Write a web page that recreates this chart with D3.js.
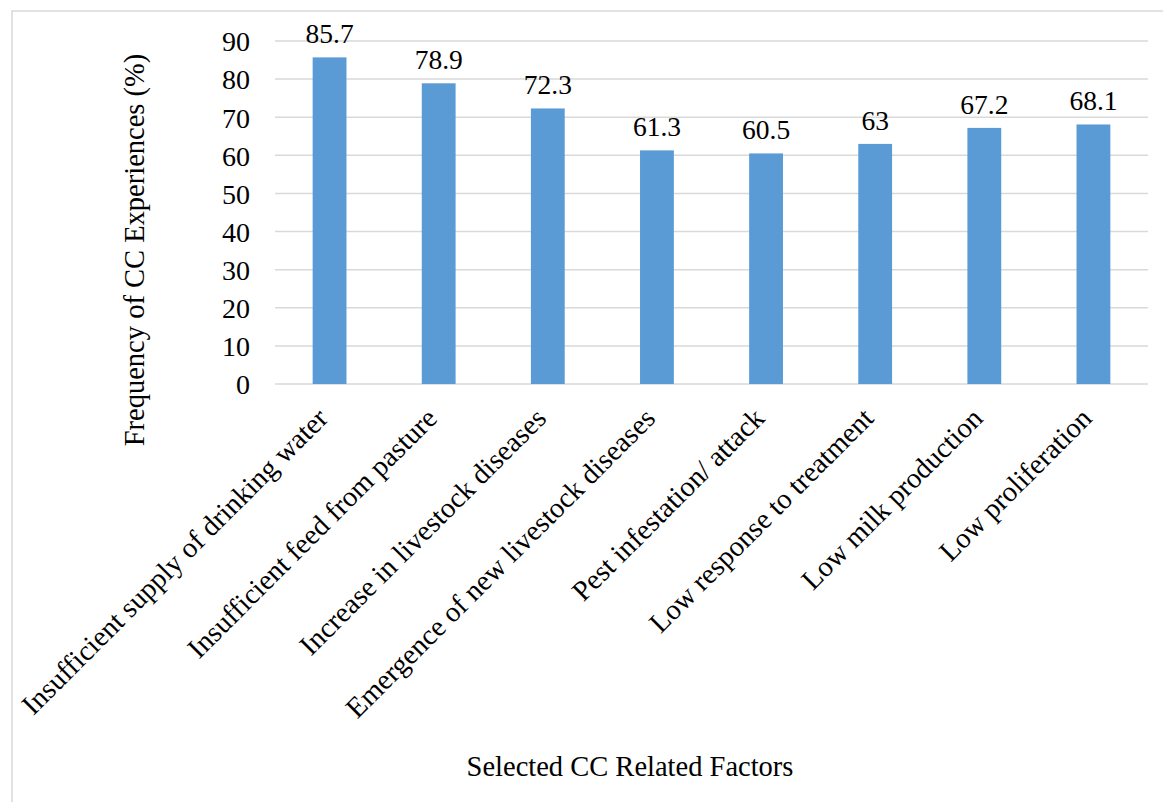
<!DOCTYPE html>
<html>
<head>
<meta charset="utf-8">
<script src="https://cdn.jsdelivr.net/npm/d3@7"></script>
<style>
  body { margin: 0; background: #fff; }
  svg text { font-family: "Times New Roman", "Liberation Serif", serif; fill: #000; }
</style>
</head>
<body>
<div id="chart"></div>
<script>
// chart data
const categories = [
    'Insufficient supply of drinking water',
    'Insufficient feed from pasture',
    'Increase in livestock diseases',
    'Emergence of new livestock diseases',
    'Pest infestation/ attack',
    'Low response to treatment',
    'Low milk production',
    'Low proliferation'
];
const values = [85.7, 78.9, 72.3, 61.3, 60.5, 63, 67.2, 68.1];
const yTicks = [0, 10, 20, 30, 40, 50, 60, 70, 80, 90];

const serif = '"Times New Roman", "Liberation Serif", serif';
const width = 1163;
const height = 802;
const margin = { top: 41, right: 15, bottom: 418, left: 275 };

const svg = d3.select('#chart').append('svg')
    .attr('width', width)
    .attr('height', height)
    .attr('font-family', serif);

// outer frame
svg.append('rect')
    .attr('x', 12).attr('y', 11)
    .attr('width', width + 10).attr('height', height + 10)
    .attr('fill', 'none')
    .attr('stroke', '#d9d9d9')
    .attr('stroke-width', 1.5);

const x = d3.scaleBand()
    .domain(categories)
    .range([margin.left, width - margin.right])
    .paddingInner(0.69)
    .paddingOuter(0.345);

const y = d3.scaleLinear()
    .domain([0, 90])
    .range([height - margin.bottom, margin.top]);

// gridlines
svg.append('g')
    .selectAll('line')
    .data(yTicks)
    .enter()
    .append('line')
    .attr('x1', margin.left)
    .attr('x2', width - margin.right)
    .attr('y1', d => y(d))
    .attr('y2', d => y(d))
    .attr('stroke', '#d9d9d9')
    .attr('stroke-width', 1.5);

// y axis labels
const yAxis = svg.append('g')
    .attr('transform', `translate(${margin.left - 25},0)`)
    .call(d3.axisLeft(y).tickValues(yTicks).tickSize(0).tickPadding(0))
    .attr('font-family', serif)
    .attr('font-size', 28);
yAxis.select('.domain').remove();
yAxis.selectAll('text')
    .attr('dy', '0.35em');

// bars
svg.append('g')
    .selectAll('rect')
    .data(values)
    .enter()
    .append('rect')
    .attr('x', (d, i) => x(categories[i]))
    .attr('y', d => y(d))
    .attr('width', x.bandwidth())
    .attr('height', d => y(0) - y(d))
    .attr('fill', '#5b9bd5');

// value labels
svg.append('g')
    .selectAll('text')
    .data(values)
    .enter()
    .append('text')
    .attr('x', (d, i) => x(categories[i]) + x.bandwidth() / 2)
    .attr('y', d => y(d) - 14)
    .attr('text-anchor', 'middle')
    .attr('font-size', 27.5)
    .text(d => d);

// category labels
svg.append('g')
    .selectAll('text')
    .data(categories)
    .enter()
    .append('text')
    .attr('transform', d => `translate(${x(d) + x.bandwidth() / 2},${y(0) + 36}) rotate(-45)`)
    .attr('text-anchor', 'end')
    .attr('font-size', 28.5)
    .text(d => d);

// axis titles
svg.append('text')
    .attr('transform', `translate(144,250) rotate(-90)`)
    .attr('text-anchor', 'middle')
    .attr('font-size', 28.5)
    .text('Frequency of CC Experiences (%)');

svg.append('text')
    .attr('x', 630)
    .attr('y', 776)
    .attr('text-anchor', 'middle')
    .attr('font-size', 28.5)
    .text('Selected CC Related Factors');
</script>
</body>
</html>
